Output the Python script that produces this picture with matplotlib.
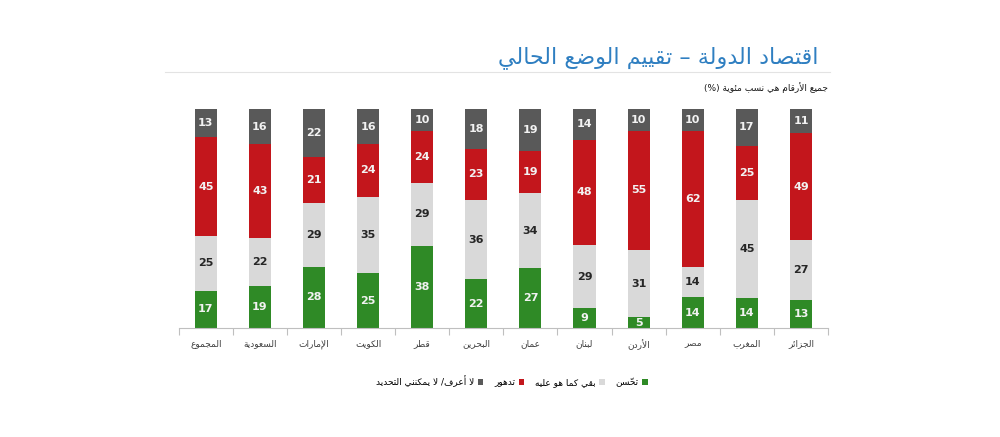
import numpy as np
import matplotlib
matplotlib.use('Agg')
import matplotlib.pyplot as plt
from matplotlib.patches import Patch

# data, left to right as in the chart
countries = ['المجموع', 'السعودية', 'الإمارات', 'الكويت', 'قطر', 'البحرين',
             'عمان', 'لبنان', 'الأردن', 'مصر', 'المغرب', 'الجزائر']
improved = [17, 19, 28, 25, 38, 22, 27, 9, 5, 14, 14, 13]
same = [25, 22, 29, 35, 29, 36, 34, 29, 31, 14, 45, 27]
worse = [45, 43, 21, 24, 24, 23, 19, 48, 55, 62, 25, 49]
dont_know = [13, 16, 22, 16, 10, 18, 19, 14, 10, 10, 17, 11]

series_names = ['تحسّن', 'بقي كما هو عليه', 'تدهور', 'لا أعرف/ لا يمكنني التحديد']
colors = ['#2f8a26', '#d9d9d9', '#c3161c', '#595959']
label_colors = ['#f2f2f2', '#262626', '#f2f2f2', '#f2f2f2']
title = 'اقتصاد الدولة – تقييم الوضع الحالي'
subtitle = 'جميع الأرقام هي نسب مئوية (%)'


# --- minimal arabic shaping (matplotlib has no complex text layout) ---
DUAL = {0x0626: 0xFE89, 0x0628: 0xFE8F, 0x062A: 0xFE95, 0x062B: 0xFE99,
        0x062C: 0xFE9D, 0x062D: 0xFEA1, 0x062E: 0xFEA5, 0x0633: 0xFEB1,
        0x0634: 0xFEB5, 0x0635: 0xFEB9, 0x0636: 0xFEBD, 0x0637: 0xFEC1,
        0x0638: 0xFEC5, 0x0639: 0xFEC9, 0x063A: 0xFECD, 0x0641: 0xFED1,
        0x0642: 0xFED5, 0x0643: 0xFED9, 0x0644: 0xFEDD, 0x0645: 0xFEE1,
        0x0646: 0xFEE5, 0x0647: 0xFEE9, 0x064A: 0xFEF1}
RIGHT = {0x0622: 0xFE81, 0x0623: 0xFE83, 0x0624: 0xFE85, 0x0625: 0xFE87,
         0x0627: 0xFE8D, 0x0629: 0xFE93, 0x062F: 0xFEA9, 0x0630: 0xFEAB,
         0x0631: 0xFEAD, 0x0632: 0xFEAF, 0x0648: 0xFEED, 0x0649: 0xFEEF}
LAMALEF = {0x0622: 0xFEF5, 0x0623: 0xFEF7, 0x0625: 0xFEF9, 0x0627: 0xFEFB}
MIRROR = {'(': ')', ')': '(', '[': ']', ']': '['}


def ar(s):
    toks = []  # [kind, code, marks]
    i = 0
    while i < len(s):
        c = ord(s[i])
        if 0x064B <= c <= 0x0652 and toks:
            toks[-1][2] += s[i]
        elif c == 0x0644 and i + 1 < len(s) and ord(s[i + 1]) in LAMALEF:
            toks.append(['R', LAMALEF[ord(s[i + 1])], ''])
            i += 1
        elif c in DUAL:
            toks.append(['D', DUAL[c], ''])
        elif c in RIGHT:
            toks.append(['R', RIGHT[c], ''])
        else:
            toks.append(['N', c, ''])
        i += 1
    glyphs = []
    for k, (kind, code, marks) in enumerate(toks):
        jp = k > 0 and toks[k - 1][0] == 'D' and kind in 'DR'
        jn = kind == 'D' and k + 1 < len(toks) and toks[k + 1][0] in 'DR'
        if kind == 'D':
            code += 3 if (jp and jn) else 1 if jp else 2 if jn else 0
        elif kind == 'R':
            code += 1 if jp else 0
        ch = chr(code)
        if kind == 'N':
            ch = MIRROR.get(ch, ch)
        glyphs.append((kind, ch + marks))
    # reverse for display, keep digit / latin runs in order
    out, run = [], []
    for kind, g in glyphs:
        if kind == 'N' and (g.isdigit() or g.isascii() and g.isalpha()):
            run.append(g)
        else:
            if run:
                out.append(''.join(run))
                run = []
            out.append(g)
    if run:
        out.append(''.join(run))
    return ''.join(reversed(out))


plt.rcParams['font.family'] = ['DejaVu Sans']

fig = plt.figure(figsize=(10, 4.37), dpi=100)
ax = fig.add_axes([0.1787, 0.2494, 0.6493, 0.5011])

series = [improved, same, worse, dont_know]
data = np.array(series, dtype=float)
pct = data / data.sum(axis=0) * 100
x = np.arange(len(countries))
bottom = np.zeros(len(countries))
for vals, h, col, tc in zip(series, pct, colors, label_colors):
    ax.bar(x, h, width=0.41, bottom=bottom, color=col, edgecolor='none')
    for xi, b, hh, v in zip(x, bottom, h, vals):
        ax.text(xi, b + hh / 2, str(v), ha='center', va='center',
                color=tc, fontsize=8, fontweight='bold')
    bottom += h

ax.set_xlim(-0.5, len(countries) - 0.5)
ax.set_ylim(0, 100)
for s in ['top', 'left', 'right']:
    ax.spines[s].set_visible(False)
ax.spines['bottom'].set_color('#bfbfbf')
ax.spines['bottom'].set_linewidth(0.8)
ax.set_yticks([])
ax.set_xticks(x)
ax.set_xticklabels([ar(c) for c in countries], fontsize=6.5, color='#404040')
ax.tick_params(axis='x', which='major', length=0, pad=8)
ax.set_xticks(np.arange(-0.5, len(countries)), minor=True)
ax.tick_params(axis='x', which='minor', length=5, color='#bfbfbf', width=0.8)

# title, rule and note
fig.text(0.818, 0.855, ar(title), ha='right', va='baseline', fontsize=16,
         color='#2f7fc1')
fig.add_artist(plt.Line2D([0.165, 0.83], [0.835, 0.835], color='#e3e3e3',
                          linewidth=0.8))
fig.text(0.828, 0.8, ar(subtitle), ha='right', va='center', fontsize=6.5,
         color='#1a1a1a')

# legend, right to left like the original
order = [3, 2, 1, 0]
handles = [Patch(facecolor=colors[k], edgecolor='none') for k in order]
fig.legend(handles, [ar(series_names[k]) for k in order], loc='center',
           bbox_to_anchor=(0.512, 0.128), ncol=4, frameon=False,
           markerfirst=False, fontsize=6.5, handlelength=0.6,
           handleheight=0.6, handletextpad=0.4, columnspacing=1.2)

fig.savefig('out.png', dpi=100)
